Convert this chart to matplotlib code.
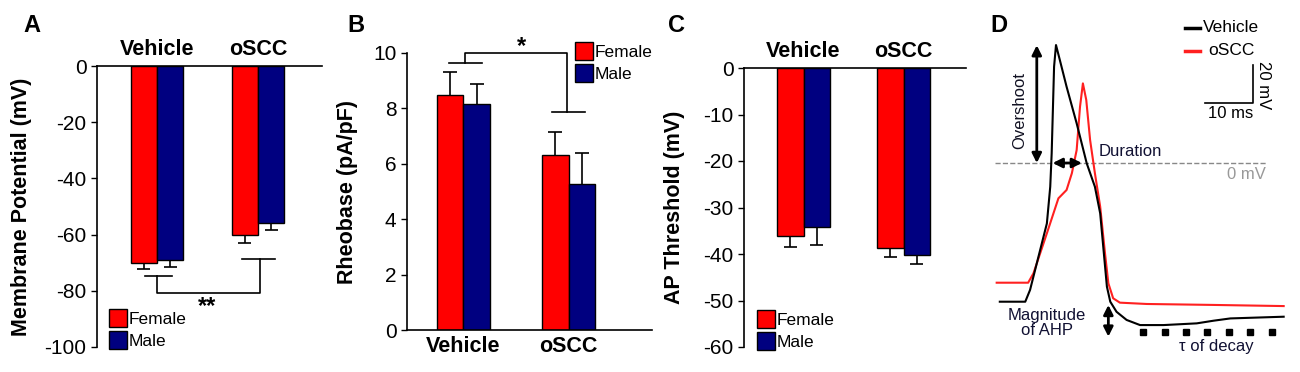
import matplotlib
matplotlib.use("Agg")
import matplotlib.pyplot as plt
from matplotlib.patches import Patch

plt.rcParams['font.family'] = ['Liberation Sans', 'DejaVu Sans']
plt.rcParams['axes.unicode_minus'] = False

groups = ["Vehicle", "oSCC"]
sexes = ["Female", "Male"]
colors = ["#ff0000", "#000080"]

# A: membrane potential (mV), mean and SEM
rmp_female = [-70.0, -60.0]
rmp_male = [-69.0, -55.7]
rmp_female_err = [2.3, 3.0]
rmp_male_err = [2.5, 2.7]

# B: rheobase (pA/pF)
rheo_female = [8.48, 6.32]
rheo_male = [8.16, 5.27]
rheo_female_err = [0.83, 0.83]
rheo_male_err = [0.72, 1.13]

# C: AP threshold (mV)
thr_female = [-36.1, -38.8]
thr_male = [-34.1, -40.2]
thr_female_err = [2.3, 1.9]
thr_male_err = [3.9, 2.0]

# D: example action potentials (ms, mV)
veh_t = [1.0, 6.3, 7.3, 10.8, 11.5, 11.8, 12.3, 12.7, 13.5, 14.9, 17.0, 19.1, 20.8,
         21.9, 22.6, 23.3, 24.0, 25.3, 27.4, 30.2, 35.1, 42.0, 45.5, 49.0, 60.1]
veh_v = [-73.0, -73.0, -66.8, -31.8, -12.5, 5.1, 50.7, 62.1, 54.2, 40.2, 20.9, -0.2, -12.5,
         -26.5, -45.8, -65.1, -73.0, -78.3, -82.6, -85.3, -85.3, -84.4, -83.0, -81.8, -80.9]
oscc_t = [0.35, 6.9, 8.0, 10.8, 13.2, 14.9, 16.0, 17.0, 17.7, 18.3, 19.0, 19.8, 20.8,
          21.9, 22.9, 23.6, 24.6, 26.0, 31.6, 45.5, 60.1]
oscc_v = [-63.0, -63.0, -58.1, -37.0, -18.6, -14.2, -5.4, 6.8, 29.6, 41.9, 33.2, 12.1, -5.4,
          -23.0, -47.5, -63.3, -71.2, -73.5, -74.2, -74.7, -75.3]
decay_t = [30.8, 35.3, 39.7, 44.2, 48.7, 53.1, 57.6]
decay_v = [-89.1] * 7

W, H = 1300, 372
fig = plt.figure(figsize=(13, 3.72), dpi=100)


def px_axes(left, right, top, bottom):
    return fig.add_axes([left / W, (H - bottom) / H, (right - left) / W, (bottom - top) / H])


def bar_panel(ax, fem, mal, fem_err, mal_err, width):
    xs = [0, 1]
    for off, vals, errs, c in [(-width / 2, fem, fem_err, colors[0]),
                               (width / 2, mal, mal_err, colors[1])]:
        pos = [x + off for x in xs]
        ax.bar(pos, vals, width, color=c, edgecolor="black", linewidth=1.0, zorder=2)
        # one-sided error bars, pointing away from zero
        ends = [v - e if v < 0 else v + e for v, e in zip(vals, errs)]
        ax.vlines(pos, vals, ends, color="black", lw=1.2, zorder=1)
        ax.hlines(ends, [p - 0.065 for p in pos], [p + 0.065 for p in pos],
                  color="black", lw=1.2, zorder=1)
    ax.set_xticks(xs)
    ax.set_xticklabels(groups, fontsize=15.5, fontweight="bold")
    ax.tick_params(axis="x", length=0, pad=4)
    ax.tick_params(axis="y", labelsize=15, length=4, width=1.0, direction="out")
    ax.spines["right"].set_visible(False)
    for s in ax.spines.values():
        s.set_linewidth(1.2)


def legend(ax, x, y):
    handles = [Patch(facecolor=c, edgecolor="black", linewidth=1.0) for c in colors]
    ax.legend(handles, sexes, loc="center left", bbox_to_anchor=(x / W, (H - y) / H),
              bbox_transform=fig.transFigure, frameon=False, fontsize=12.5,
              handlelength=1.05, handleheight=1.25, handletextpad=0.1, labelspacing=0.2,
              borderpad=0, borderaxespad=0)


# ---- A ----
axA = px_axes(97, 322, 66, 347)
bar_panel(axA, rmp_female, rmp_male, rmp_female_err, rmp_male_err, 0.262)
axA.set_xlim(-0.594, 1.634)
axA.set_ylim(-100, 0)
axA.set_yticks([0, -20, -40, -60, -80, -100])
axA.xaxis.tick_top()
axA.spines["bottom"].set_visible(False)
axA.set_ylabel("Membrane Potential (mV)", fontsize=15.5, fontweight="bold")
axA.yaxis.set_label_coords(-0.29, 0.5)
bk = dict(color="black", lw=1.2, clip_on=False)
axA.plot([-0.12, 0.15], [-74.7, -74.7], **bk)
axA.plot([0.0, 0.0, 1.02, 1.02], [-74.7, -80.8, -80.8, -68.8], **bk)
axA.plot([0.84, 1.17], [-68.8, -68.8], **bk)
axA.text(0.495, -85.5, "**", ha="center", va="center", fontsize=17, fontweight="bold")
legend(axA, 109, 329)

# ---- B ----
axB = px_axes(407, 652, 53, 330)
bar_panel(axB, rheo_female, rheo_male, rheo_female_err, rheo_male_err, 0.252)
axB.set_xlim(-0.538, 1.795)
axB.set_ylim(0, 10)
axB.set_yticks([0, 2, 4, 6, 8, 10])
axB.spines["top"].set_visible(False)
axB.set_ylabel("Rheobase (pA/pF)", fontsize=15.5, fontweight="bold")
axB.yaxis.set_label_coords(-0.2, 0.5)
axB.plot([-0.138, 0.176], [9.63, 9.63], **bk)
axB.plot([0.014, 0.014, 0.986, 0.986], [9.63, 10.0, 10.0, 7.87], **bk)
axB.plot([0.843, 1.157], [7.87, 7.87], **bk)
axB.text(0.548, 10.25, "*", ha="center", va="center", fontsize=17, fontweight="bold")
legend(axB, 575, 62)

# ---- C ----
axC = px_axes(744, 966, 68, 347)
bar_panel(axC, thr_female, thr_male, thr_female_err, thr_male_err, 0.265)
axC.set_xlim(-0.595, 1.625)
axC.set_ylim(-60, 0)
axC.set_yticks([0, -10, -20, -30, -40, -50, -60])
axC.xaxis.tick_top()
axC.spines["bottom"].set_visible(False)
axC.set_ylabel("AP Threshold (mV)", fontsize=15.5, fontweight="bold")
axC.yaxis.set_label_coords(-0.266, 0.5)
legend(axC, 757, 330)

# ---- D ----
axD = px_axes(995, 1300, 0, 372)
axD.set_xlim(0, 63.5)
axD.set_ylim(-110, 85.8)
axD.axis("off")
axD.plot([0, 56.6], [0, 0], ls="--", color="#888888", lw=1.0)
axD.text(52.4, -5.8, "0 mV", color="#999999", fontsize=12, ha="center", va="center")
axD.plot(oscc_t, oscc_v, color="#ff2020", lw=1.5)
axD.plot(veh_t, veh_v, color="black", lw=1.5)
axD.plot(decay_t, decay_v, ls="none", marker="s", ms=4, color="black")
arr = dict(arrowstyle="<|-|>", color="black", lw=2.0, mutation_scale=14, shrinkA=0, shrinkB=0)
axD.annotate("", xy=(8.7, 62), xytext=(8.7, 0), arrowprops=arr)
axD.annotate("", xy=(12.0, 0), xytext=(18.1, 0), arrowprops=arr)
axD.annotate("", xy=(23.6, -74.7), xytext=(23.6, -91.4), arrowprops=arr)
axD.text(5.2, 27.9, "Overshoot", rotation=90, fontsize=12, ha="center", va="center", color="#111122")
axD.text(28.1, 5.9, "Duration", fontsize=12, ha="center", va="center", color="#111133")
axD.text(10.8, -84, "Magnitude\nof AHP", fontsize=12, ha="center", va="center",
         linespacing=1.0, color="#111133")
axD.text(46.0, -96.7, "τ of decay", fontsize=12, ha="center", va="center", color="#111133")
# scale bar
axD.plot([43.75, 53.75, 53.75], [31.6, 31.6, 51.6], color="black", lw=1.2)
axD.text(49.0, 26.3, "10 ms", fontsize=12, ha="center", va="center")
axD.text(55.8, 41.0, "20 mV", fontsize=12, rotation=-90, ha="center", va="center")
# legend
axD.plot([39.5, 42.7], [71.3, 71.3], color="black", lw=2.5)
axD.text(43.3, 71.3, "Vehicle", fontsize=12.5, ha="left", va="center")
axD.plot([39.5, 42.7], [59.0, 59.0], color="#ff2020", lw=2.5)
axD.text(44.5, 59.0, "oSCC", fontsize=12.5, ha="left", va="center")

# panel letters
for lab, x in [("A", 23), ("B", 347), ("C", 668), ("D", 990)]:
    fig.text(x / W, (H - 25) / H, lab, fontsize=17, fontweight="bold", va="center", ha="left")

fig.savefig("out.png", dpi=100)
